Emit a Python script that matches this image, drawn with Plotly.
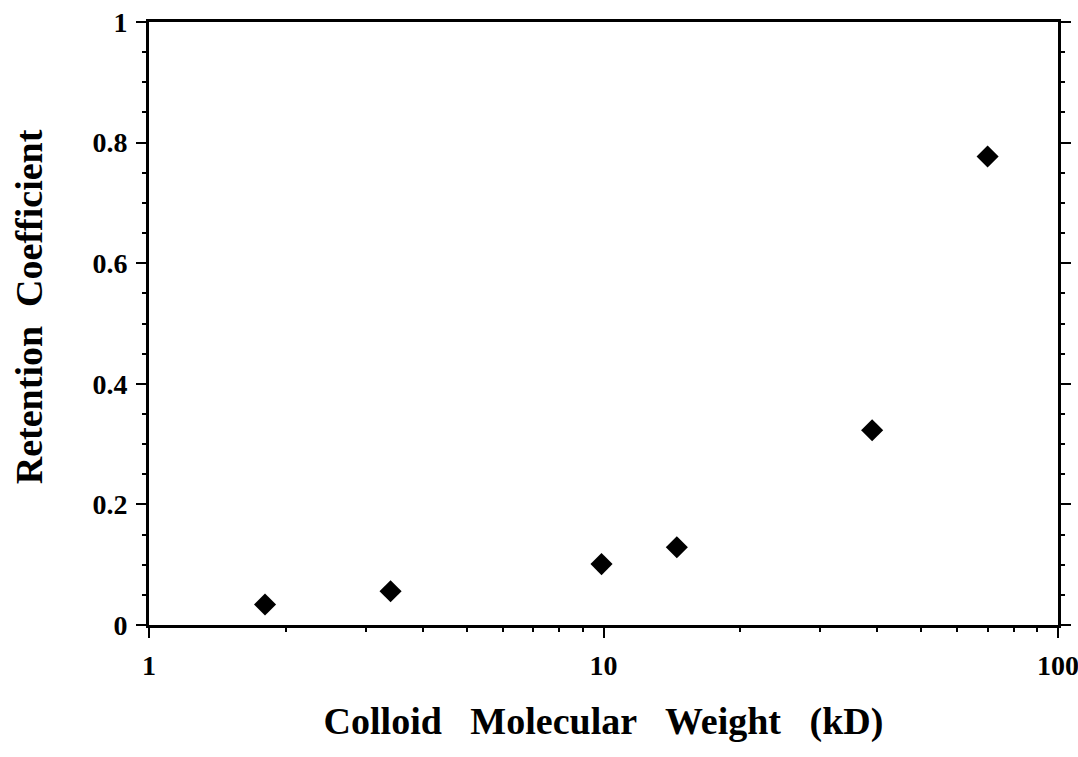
import plotly.graph_objects as go

# colloid molecular weight (kD) vs retention coefficient
mol_weight = [1.8, 3.4, 9.9, 14.5, 39, 70]
retention = [0.034, 0.056, 0.101, 0.129, 0.323, 0.777]

y_ticks = [0, 0.2, 0.4, 0.6, 0.8, 1]
y_tick_text = ["0", "0.2", "0.4", "0.6", "0.8", "1"]
x_ticks = [1, 10, 100]
x_tick_text = ["1", "10", "100"]
x_minor = [2, 3, 4, 5, 6, 7, 8, 9, 20, 30, 40, 50, 60, 70, 80, 90]

serif = "Liberation Serif"
gap = "&nbsp;&nbsp; "

fig = go.Figure()
fig.add_trace(go.Scatter(
    x=mol_weight, y=retention, mode="markers",
    marker=dict(symbol="diamond", size=17, color="black"),
    showlegend=False,
))

fig.update_xaxes(
    type="log", range=[0, 2], automargin=False,
    tickvals=x_ticks, ticktext=x_tick_text,
    ticks="outside", ticklen=10, tickwidth=2, tickcolor="black",
    minor=dict(tickvals=x_minor, ticks="outside", ticklen=4, tickwidth=2, tickcolor="black"),
    showline=True, linewidth=3, linecolor="black", mirror=True,
    showgrid=False, zeroline=False, ticklabelstandoff=3, ticklabeloverflow="allow",
    tickfont=dict(family=serif, size=28, weight="bold", color="black"),
    title=dict(text=gap.join(["Colloid", "Molecular", "Weight", "(kD)"]), standoff=28,
               font=dict(family=serif, size=38, weight="bold", color="black")),
)
fig.update_yaxes(
    range=[0, 1], automargin=False,
    tickvals=y_ticks, ticktext=y_tick_text,
    ticks="outside", ticklen=10, tickwidth=2, tickcolor="black",
    minor=dict(ticks="outside", ticklen=4, tickwidth=2, tickcolor="black", dtick=0.05),
    showline=True, linewidth=3, linecolor="black", mirror="ticks",
    showgrid=False, zeroline=False, ticklabelstandoff=3, ticklabeloverflow="allow",
    tickfont=dict(family=serif, size=28, weight="bold", color="black"),
)

# y title as annotation, sits a little above the axis centre like the scan
fig.add_annotation(
    text="Retention&nbsp; Coefficient", textangle=-90,
    xref="paper", yref="paper", x=0, y=0.527, xshift=-120,
    xanchor="center", yanchor="middle", showarrow=False,
    font=dict(family=serif, size=38, weight="bold", color="black"),
)

fig.update_layout(
    width=1078, height=757,
    margin=dict(l=149, r=20, t=22, b=132),
    plot_bgcolor="white", paper_bgcolor="white",
)

# drop the default 8px body margin so the figure fills the window
fig.write_html("out.html", config={"displayModeBar": False},
               post_script="document.body.style.margin = '0';")
